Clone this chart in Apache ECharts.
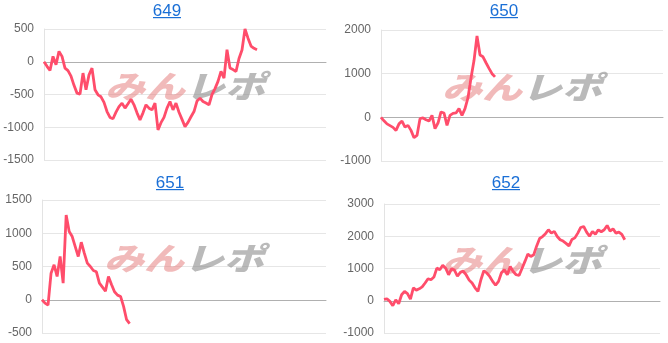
<!DOCTYPE html>
<html>
<head>
<meta charset="utf-8">
<script src="https://cdn.jsdelivr.net/npm/echarts@6/dist/echarts.min.js"></script>
<style>
html,body{margin:0;padding:0;background:#fff;}
#c{width:668px;height:343px;}
</style>
</head>
<body>
<div id="c"></div>
<script>
// ---- data ----
var titles = ['649', '650', '651', '652'];
var slotCount = 95;
var categories = [];
for (var k = 0; k < slotCount; k++) categories.push(String(k));

var series649 = [0,-70,-133,82,-46,158,82,-97,-135,-220,-360,-479,-494,-173,-428,-200,-97,-428,-505,-535,
  -620,-760,-850,-870,-770,-684,-632,-708,-640,-571,-658,-780,-887,-780,-658,-709,-735,-632,-1040,-930,
  -850,-709,-607,-735,-632,-770,-880,-990,-926,-840,-760,-600,-556,-607,-630,-658,-500,-410,-300,-148,
  -250,184,-97,-120,-148,50,180,500,360,240,205,184];
var series650 = [0,-80,-150,-190,-230,-299,-150,-85,-223,-184,-299,-467,-414,-30,-15,-55,-85,46,-260,-130,
  123,100,-184,46,90,100,200,46,200,450,900,1300,1863,1426,1387,1250,1120,1000,927];
var series651 = [0,-50,-80,400,525,350,650,250,1275,1025,950,800,650,865,700,550,500,440,420,250,
  190,130,350,230,120,70,50,-100,-300,-360];
var series652 = [40,60,-20,-155,31,-93,186,290,220,52,400,330,370,430,550,682,651,734,1013,961,
  1100,1010,806,990,950,760,880,920,800,640,548,400,290,651,930,860,754,600,480,600,
  870,961,806,1063,908,806,785,1000,1220,1447,1373,1426,1700,1930,1990,2080,2201,2097,2150,1993,
  1891,1850,1780,1700,1900,1950,2097,2272,2303,2128,2000,2148,2066,2200,2140,2201,2334,2160,2232,2097,
  2128,2060,1891];
var yRanges = [[-1500, 500, 500], [-1000, 2000, 1000], [-500, 1500, 500], [-1000, 3000, 1000]];

// ---- layout ----
var grids = [
  {left: 44, width: 282, top: 29, height: 131},
  {left: 381, width: 282, top: 30, height: 131},
  {left: 42, width: 284, top: 200, height: 133},
  {left: 384, width: 276, top: 204, height: 129}
];
var titleCenters = [167, 504, 170, 506];
var titleTops = [3, 3, 175, 175];
var allSeries = [series649, series650, series651, series652];

var chart = echarts.init(document.getElementById('c'), null, {renderer: 'canvas'});

var option = {
  animation: false,
  backgroundColor: '#fff',
  grid: grids.map(function (g) { return Object.assign({containLabel: false}, g); }),
  xAxis: grids.map(function (g, i) {
    return {
      type: 'category', gridIndex: i, data: categories, boundaryGap: false,
      axisLine: {show: true, onZero: true, lineStyle: {color: '#b0b0b0', width: 1}},
      axisTick: {show: false}, axisLabel: {show: false}, splitLine: {show: false}
    };
  }),
  yAxis: yRanges.map(function (r, i) {
    return {
      type: 'value', gridIndex: i, min: r[0], max: r[1], interval: r[2],
      axisLine: {show: true, lineStyle: {color: '#e3e3e3', width: 1}},
      axisTick: {show: false},
      axisLabel: {color: '#666', fontSize: 12, fontFamily: 'Liberation Sans, Arial, sans-serif', margin: 10,
        formatter: function (v) { return String(v); }},
      splitLine: {show: true, lineStyle: {color: '#e6e6e6', width: 1}}
    };
  }),
  series: allSeries.map(function (d, i) {
    return {
      type: 'line', xAxisIndex: i, yAxisIndex: i, data: d, symbol: 'none', z: 5,
      lineStyle: {color: '#ff4d6b', width: 2.8}, itemStyle: {color: '#ff4d6b'}
    };
  }),
  graphic: []
};

// titles, underlines and watermark
titles.forEach(function (t, i) {
  var cx = titleCenters[i];
  option.graphic.push({
    type: 'text', x: cx, y: titleTops[i], z: 10,
    style: {text: t, fill: '#1a6fd6', font: '17px "Liberation Sans", Arial, sans-serif', textAlign: 'center', textVerticalAlign: 'top'}
  });
  option.graphic.push({
    type: 'rect', z: 10, shape: {x: cx - 14, y: titleTops[i] + 14, width: 28, height: 1.2},
    style: {fill: '#1a6fd6'}
  });
  var g = grids[i];
  var wx = g.left + g.width / 2;
  var wy = g.top + g.height / 2 - 8;
  option.graphic.push({
    type: 'text', x: wx, y: wy, z: 1, scaleY: 0.78,
    style: {text: 'みん', fill: 'rgba(230,130,130,0.55)', font: 'italic 900 40px "Noto Sans CJK JP", sans-serif', textAlign: 'right', textVerticalAlign: 'middle'}
  });
  option.graphic.push({
    type: 'text', x: wx, y: wy, z: 1, scaleY: 0.78,
    style: {text: 'レポ', fill: 'rgba(140,140,140,0.6)', font: 'italic 900 40px "Noto Sans CJK JP", sans-serif', textAlign: 'left', textVerticalAlign: 'middle'}
  });
});

chart.setOption(option);
</script>
</body>
</html>
